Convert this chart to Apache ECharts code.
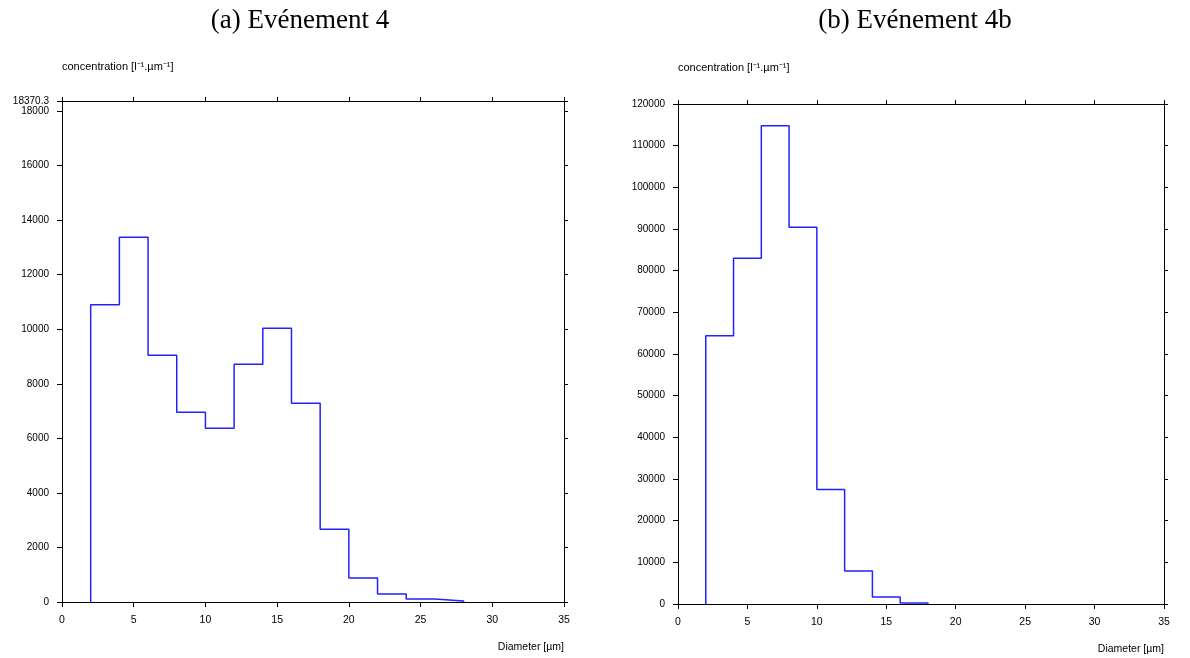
<!DOCTYPE html>
<html>
<head>
<meta charset="utf-8">
<script src="https://cdn.jsdelivr.net/npm/echarts@6/dist/echarts.min.js"></script>
<style>
html,body{margin:0;padding:0;background:#fff;}
#chart{width:1190px;height:658px;}
</style>
</head>
<body>
<div id="chart"></div>
<script>
// ---- data ----
const titles = ['(a) Evénement 4', '(b) Evénement 4b'];
const yAxisName = 'concentration [l⁻¹.µm⁻¹]';
const xAxisName = 'Diameter [µm]';
const xTicks = [0, 5, 10, 15, 20, 25, 30, 35];

// (a) bin left edges (µm) and concentrations
const edgesA = [2, 4, 6, 8, 10, 12, 14, 16, 18, 20, 22, 24, 26, 28];
const valuesA = [10900, 13370, 9050, 6960, 6370, 8720, 10040, 7290, 2670, 880, 290, 110, 40];
const yMaxA = 18370.3;
const yStepA = 2000;

// (b)
const edgesB = [2, 4, 6, 8, 10, 12, 14, 16, 18];
const valuesB = [64400, 83000, 114800, 90400, 27500, 7900, 1700, 250];
const yMaxB = 120000;
const yStepB = 10000;

function stepData(edges, values) {
  const d = [[edges[0], 0]];
  for (let i = 0; i < values.length; i++) d.push([edges[i], values[i]]);
  d.push([edges[edges.length - 1], 0]);
  return d;
}

const labelFont = { fontFamily: 'Liberation Sans, Arial, sans-serif', fontSize: 10.5, color: '#000' };
const axisLineStyle = { lineStyle: { color: '#000', width: 1 } };

function xAxes(gridIndex) {
  return [
    {
      type: 'value', gridIndex, position: 'bottom', min: xTicks[0], max: xTicks[xTicks.length - 1], interval: 5,
      axisLine: { show: true, onZero: false, ...axisLineStyle },
      axisTick: { show: true, length: 5, lineStyle: { color: '#000' } },
      axisLabel: { ...labelFont, margin: 13 },
      splitLine: { show: false },
      name: xAxisName, nameLocation: 'end', nameGap: 0,
      nameTextStyle: { ...labelFont, align: 'right', verticalAlign: 'top', padding: [40, 0, 0, 0] }
    },
    {
      type: 'value', gridIndex, position: 'top', min: xTicks[0], max: xTicks[xTicks.length - 1], interval: 5,
      axisLine: { show: true, onZero: false, ...axisLineStyle },
      axisTick: { show: true, length: 4, lineStyle: { color: '#000' } },
      axisLabel: { show: false },
      splitLine: { show: false }
    }
  ];
}

function yAxes(gridIndex, max, step, nameGap) {
  return [
    {
      type: 'value', gridIndex, position: 'left', min: 0, max, interval: step,
      axisLine: { show: true, onZero: false, ...axisLineStyle },
      axisTick: { show: true, length: 5, lineStyle: { color: '#000' } },
      axisLabel: { ...labelFont, fontSize: 10, margin: 13, formatter: v => String(v) },
      splitLine: { show: false },
      name: yAxisName, nameLocation: 'end', nameGap,
      nameTextStyle: { ...labelFont, fontSize: 11, align: 'left' }
    },
    {
      type: 'value', gridIndex, position: 'right', min: 0, max, interval: step,
      axisLine: { show: true, onZero: false, ...axisLineStyle },
      axisTick: { show: true, length: 4, lineStyle: { color: '#000' } },
      axisLabel: { show: false },
      splitLine: { show: false }
    }
  ];
}

const chart = echarts.init(document.getElementById('chart'), null, { renderer: 'canvas' });
const titleFont = { fontFamily: 'Liberation Serif, Times New Roman, serif', fontSize: 27, fontWeight: 'normal', color: '#000' };

chart.setOption({
  backgroundColor: '#fff',
  animation: false,
  title: [
    { text: titles[0], left: 295, top: 2, textAlign: 'center', textStyle: titleFont },
    { text: titles[1], left: 910, top: 2, textAlign: 'center', textStyle: titleFont }
  ],
  grid: [
    { left: 62, right: 626, top: 101, bottom: 56 },
    { left: 678, right: 26, top: 104, bottom: 54 }
  ],
  xAxis: [...xAxes(0), ...xAxes(1)],
  yAxis: [...yAxes(0, yMaxA, yStepA, 29), ...yAxes(1, yMaxB, yStepB, 31)],
  series: [
    {
      type: 'line', xAxisIndex: 0, yAxisIndex: 0, step: 'end', symbol: 'none',
      lineStyle: { color: '#2222ff', width: 1.5 },
      data: stepData(edgesA, valuesA)
    },
    {
      type: 'line', xAxisIndex: 2, yAxisIndex: 2, step: 'end', symbol: 'none',
      lineStyle: { color: '#2222ff', width: 1.5 },
      data: stepData(edgesB, valuesB)
    }
  ]
});
</script>
</body>
</html>
